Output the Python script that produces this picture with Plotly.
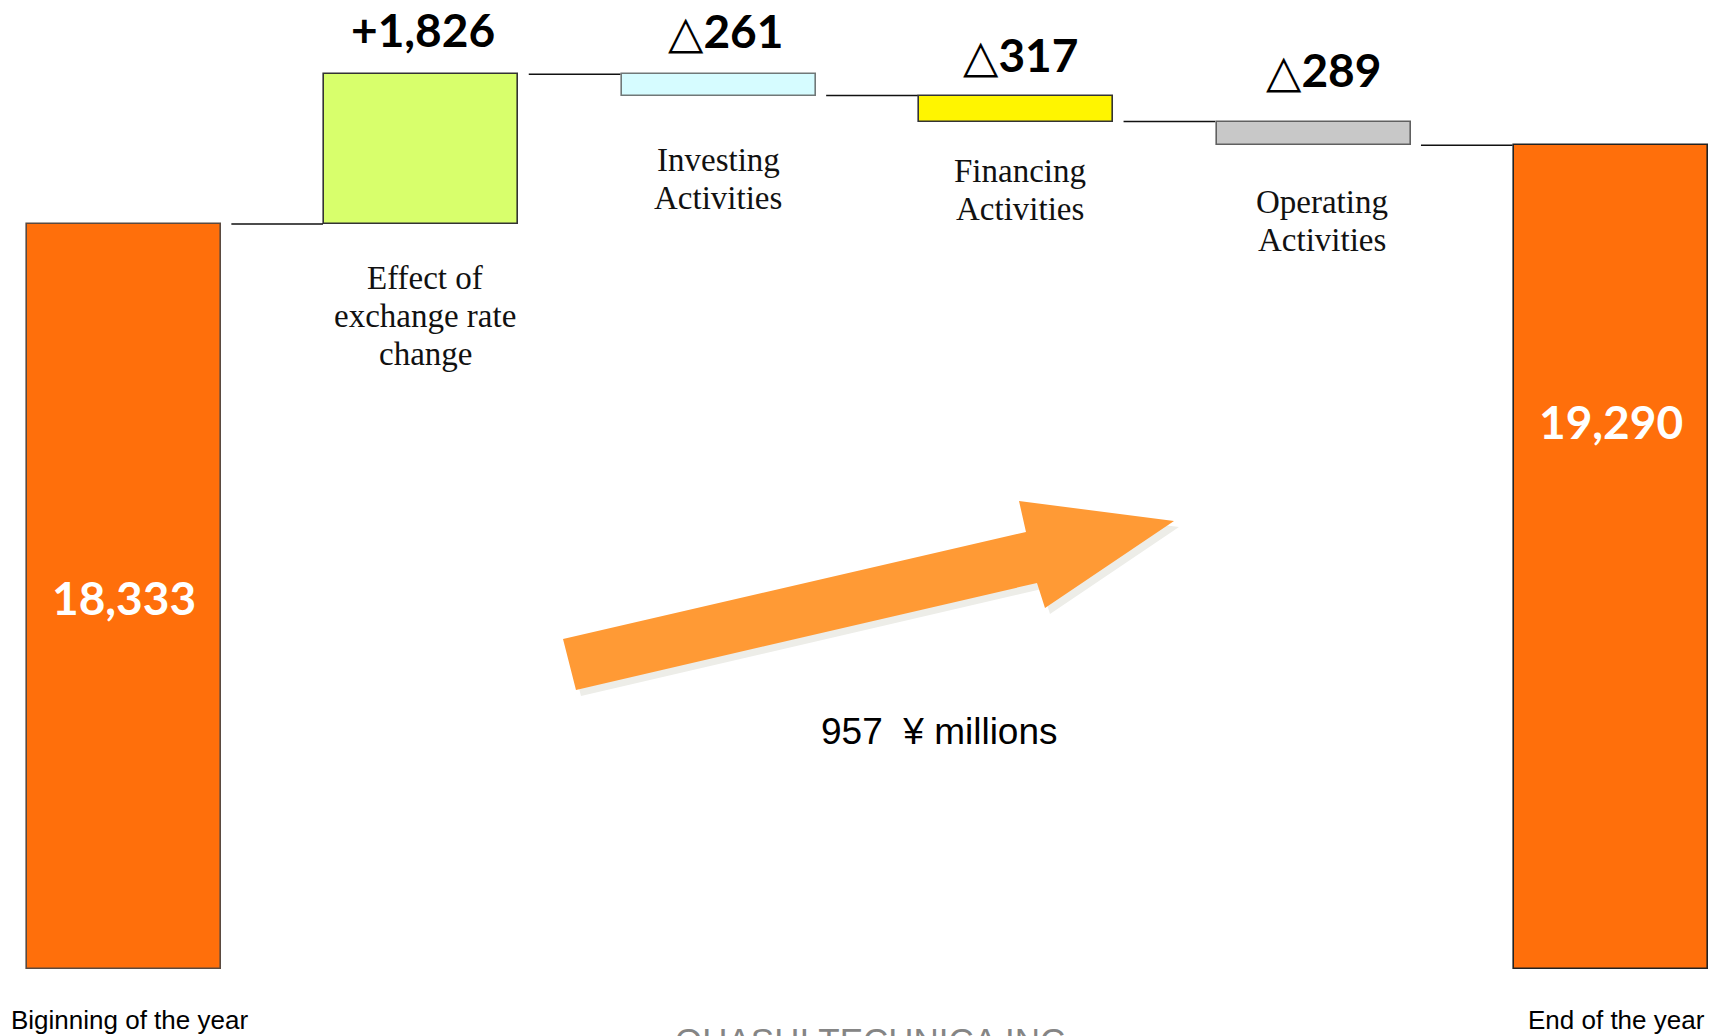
import plotly.graph_objects as go

# ---------------- data ----------------
categories = ["Biginning of the year", "Effect of exchange rate change",
              "Investing Activities", "Financing Activities",
              "Operating Activities", "End of the year"]
measures = ["total", "relative", "relative", "relative", "relative", "total"]
values = [18333, 1826, -261, -317, -289, 19290]
value_labels = ["18,333", "+1,826", "△261", "△317", "△289", "19,290"]
category_lines = [[], ["Effect of", "exchange rate", "change"], ["Investing", "Activities"],
                  ["Financing", "Activities"], ["Operating", "Activities"], []]
net_change_label = "957\u00a0\u00a0¥ millions"
company = "OHASHI TECHNICA INC."

# ---------------- styles / layout ----------------
bar_colors = ["#FF6F0B", "#D8FF6C", "#D6FCFF", "#FFF500", "#C8C8C8", "#FF6F0B"]
edge_colors = ["#5A4A40", "#333333", "#707878", "#333333", "#606060", "#222222"]
W, H = 1715, 1036
AXIS_BASE = 9250          # truncated value axis starts here (bottom of bars)
PX_PER_UNIT = 0.08203
BAR_BOTTOM_PX = 969
X0_PX, STEP_PX = 124, 297.4

# label placement (pixels in the 1715x1036 picture)
value_label_pos = {0: (124, 597), 1: (423, 29), 2: (725, 31), 3: (1020, 55), 4: (1323, 70), 5: (1611, 422)}
category_label_pos = {1: (425, 278), 2: (718, 160), 3: (1020, 171), 4: (1322, 202)}
LINE_GAP = 38

y_lo = AXIS_BASE - (H - BAR_BOTTOM_PX) / PX_PER_UNIT
y_hi = AXIS_BASE + BAR_BOTTOM_PX / PX_PER_UNIT

# waterfall geometry from values
bases, tops, levels = [], [], []
running = 0
for m, v in zip(measures, values):
    if m == "total":
        bases.append(AXIS_BASE)
        tops.append(v)
        running = v
    else:
        lo, hi = min(running, running + v), max(running, running + v)
        bases.append(lo)
        tops.append(hi)
        running += v
    levels.append(running)

xs = list(range(len(categories)))
BAR_W = 0.652

fig = go.Figure()
fig.add_trace(go.Bar(
    x=xs, y=[t - b for t, b in zip(tops, bases)], base=bases, width=BAR_W,
    marker=dict(color=bar_colors, line=dict(color=edge_colors, width=1.6)),
    hoverinfo="skip", showlegend=False,
))

shapes = []
for i in range(len(xs) - 1):
    shapes.append(dict(type="line", xref="x", yref="y",
                       x0=xs[i] + BAR_W / 2 + 0.035, x1=xs[i + 1] - BAR_W / 2 - 0.005,
                       y0=levels[i], y1=levels[i], line=dict(color="#111111", width=1.5)))

# decorative arrow (pixel geometry -> paper)
arrow_px = [(563, 639), (1026, 532), (1019, 501), (1174, 521),
            (1045, 608), (1037, 583), (576, 690)]


def to_path(pts, dx=0, dy=0):
    s = ""
    for k, (px, py) in enumerate(pts):
        s += ("M" if k == 0 else "L") + f"{(px + dx) / W:.5f},{1 - (py + dy) / H:.5f} "
    return s + "Z"


shapes.append(dict(type="path", xref="paper", yref="paper", path=to_path(arrow_px, 5, 6),
                   fillcolor="#EDEDE8", line=dict(width=0), layer="above"))
shapes.append(dict(type="path", xref="paper", yref="paper", path=to_path(arrow_px),
                   fillcolor="#FF9A35", line=dict(width=0), layer="above"))


def px_ann(px, py, text, font, xanchor="center", yanchor="middle"):
    return dict(x=px / W, y=1 - py / H, xref="paper", yref="paper", text=text, showarrow=False,
                xanchor=xanchor, yanchor=yanchor, font=font)


annotations = []
num_font = dict(family="Lato, 'DejaVu Sans', sans-serif", size=46, color="#000000")
white_font = dict(family="Lato, sans-serif", size=46, color="#FFFFFF")
serif_font = dict(family="'Liberation Serif', serif", size=33, color="#111111")
for i, m in enumerate(measures):
    px, py = value_label_pos[i]
    annotations.append(px_ann(px, py, f"<b>{value_labels[i]}</b>",
                              white_font if m == "total" else num_font))
    if category_lines[i]:
        cx, cy = category_label_pos[i]
        for j, line in enumerate(category_lines[i]):
            annotations.append(px_ann(cx, cy + j * LINE_GAP, line, serif_font))

sans = "'Liberation Sans', Arial, sans-serif"
annotations.append(px_ann(9, 1020, categories[0], dict(family=sans, size=26, color="#000000"), xanchor="left"))
annotations.append(px_ann(1707, 1020, categories[5], dict(family=sans, size=26, color="#000000"), xanchor="right"))
annotations.append(px_ann(940, 731, net_change_label, dict(family=sans, size=37, color="#000000")))
annotations.append(px_ann(875, 1019, company, dict(family=sans, size=35, color="#858585"), yanchor="top"))

fig.update_layout(
    width=W, height=H,
    margin=dict(l=0, r=0, t=0, b=0, pad=0),
    paper_bgcolor="#FFFFFF", plot_bgcolor="#FFFFFF",
    xaxis=dict(range=[-X0_PX / STEP_PX, (W - X0_PX) / STEP_PX], visible=False, fixedrange=True),
    yaxis=dict(range=[y_lo, y_hi], visible=False, fixedrange=True),
    shapes=shapes, annotations=annotations, showlegend=False, bargap=0,
)

fig.write_html("out.html", include_plotlyjs=True, config={"displayModeBar": False},
               post_script="document.body.style.margin='0';document.body.style.overflow='hidden';")
